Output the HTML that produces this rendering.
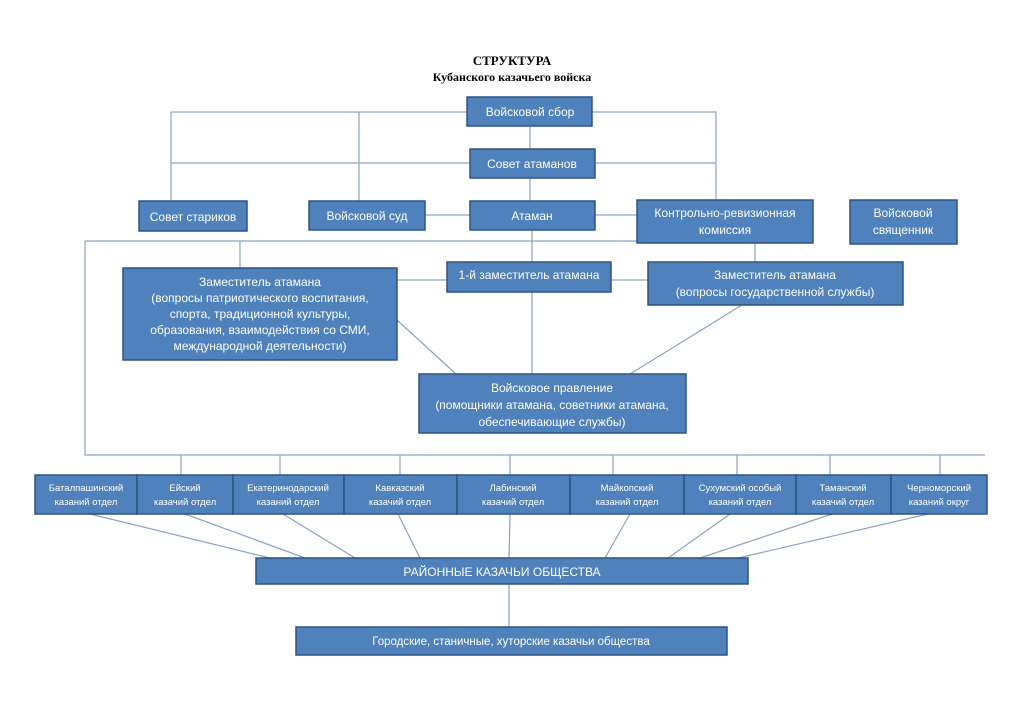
<!DOCTYPE html>
<html><head><meta charset="utf-8"><style>
html,body{margin:0;padding:0;background:#fff}
svg{display:block}
text{font-family:"Liberation Sans",sans-serif;fill:#fff;text-anchor:middle}
.b{fill:#4f81bd;stroke:#2f5380;stroke-width:1.5}
.l{stroke:#8aa3c6;stroke-width:1.2;fill:none}
</style></head><body>
<svg width="1023" height="723" viewBox="0 0 1023 723">
<text x="512" y="65" style="fill:#000;font-family:'Liberation Serif',serif;font-weight:bold;font-size:13px">СТРУКТУРА</text>
<text x="512" y="81" style="fill:#000;font-family:'Liberation Serif',serif;font-weight:bold;font-size:12px">Кубанского казачьего войска</text>
<g class="l">
<path d="M171 112H716V200M171 112V201M359 112V201M171 163H716M530 126V149M530 178V201M425 215H470M595 215H637M85 241H637M85 241V455H985M240 241V268M532 230V374M755 243V262M397 280H447M611 280H648M397 320L456 374M742 305L630 374"/>
<path d="M181 455V475M280 455V475M400 455V475M510 455V475M613 455V475M737 455V475M830 455V475M940 455V475"/>
<path d="M90 514L270 558M185 514L305 558M283 514L355 558M398 514L420 558M510 514L509 558M630 514L605 558M730 514L668 558M832 514L700 558M928 514L738 558M509 584V627"/>
</g>
<rect class="b" x="467" y="97" width="125" height="29"/><text x="530" y="116" font-size="12">Войсковой сбор</text>
<rect class="b" x="470" y="149" width="125" height="29"/><text x="532" y="168" font-size="12">Совет атаманов</text>
<rect class="b" x="470" y="201" width="125" height="29"/><text x="532" y="220" font-size="12">Атаман</text>
<rect class="b" x="139" y="201" width="108" height="30"/><text x="193" y="221" font-size="12">Совет стариков</text>
<rect class="b" x="309" y="201" width="116" height="29"/><text x="367" y="220" font-size="12">Войсковой суд</text>
<rect class="b" x="637" y="200" width="176" height="43"/><text x="725" y="217" font-size="12">Контрольно-ревизионная</text><text x="725" y="234" font-size="12">комиссия</text>
<rect class="b" x="850" y="200" width="107" height="44"/><text x="903" y="217" font-size="12">Войсковой</text><text x="903" y="234" font-size="12">священник</text>
<rect class="b" x="123" y="268" width="274" height="92"/>
<text x="260" y="286" font-size="12">Заместитель атамана</text><text x="260" y="302" font-size="12">(вопросы патриотического воспитания,</text><text x="260" y="318" font-size="12">спорта, традиционной культуры,</text><text x="260" y="334" font-size="12">образования, взаимодействия со СМИ,</text><text x="260" y="350" font-size="12">международной деятельности)</text>
<rect class="b" x="447" y="262" width="164" height="30"/><text x="529" y="279" font-size="12">1-й заместитель атамана</text>
<rect class="b" x="648" y="262" width="255" height="43"/><text x="775" y="279" font-size="12">Заместитель атамана</text><text x="775" y="296" font-size="12">(вопросы государственной службы)</text>
<rect class="b" x="419" y="374" width="267" height="59"/><text x="552" y="392" font-size="12">Войсковое правление</text><text x="552" y="409" font-size="12">(помощники атамана, советники атамана,</text><text x="552" y="426" font-size="12">обеспечивающие службы)</text>
<g font-size="9.5">
<rect class="b" x="35" y="475" width="102" height="39"/><text x="86" y="491">Баталпашинский</text><text x="86" y="505">казаний отдел</text>
<rect class="b" x="137" y="475" width="96" height="39"/><text x="185" y="491">Ейский</text><text x="185" y="505">казачий отдел</text>
<rect class="b" x="233" y="475" width="111" height="39"/><text x="288" y="491">Екатеринодарский</text><text x="288" y="505">казаний отдел</text>
<rect class="b" x="344" y="475" width="113" height="39"/><text x="400" y="491">Кавказский</text><text x="400" y="505">казачий отдел</text>
<rect class="b" x="457" y="475" width="113" height="39"/><text x="513" y="491">Лабинский</text><text x="513" y="505">казачий отдел</text>
<rect class="b" x="570" y="475" width="114" height="39"/><text x="627" y="491">Майкопский</text><text x="627" y="505">казаний отдел</text>
<rect class="b" x="684" y="475" width="112" height="39"/><text x="740" y="491">Сухумский особый</text><text x="740" y="505">казаний отдел</text>
<rect class="b" x="796" y="475" width="95" height="39"/><text x="843" y="491">Таманский</text><text x="843" y="505">казачий отдел</text>
<rect class="b" x="891" y="475" width="96" height="39"/><text x="939" y="491">Черноморский</text><text x="939" y="505">казаний округ</text>
</g>
<rect class="b" x="256" y="558" width="492" height="26"/><text x="502" y="576" font-size="12">РАЙОННЫЕ КАЗАЧЬИ ОБЩЕСТВА</text>
<rect class="b" x="296" y="627" width="431" height="28"/><text x="511" y="645" font-size="11.5">Городские, станичные, хуторские казачьи общества</text>
</svg>
</body></html>
